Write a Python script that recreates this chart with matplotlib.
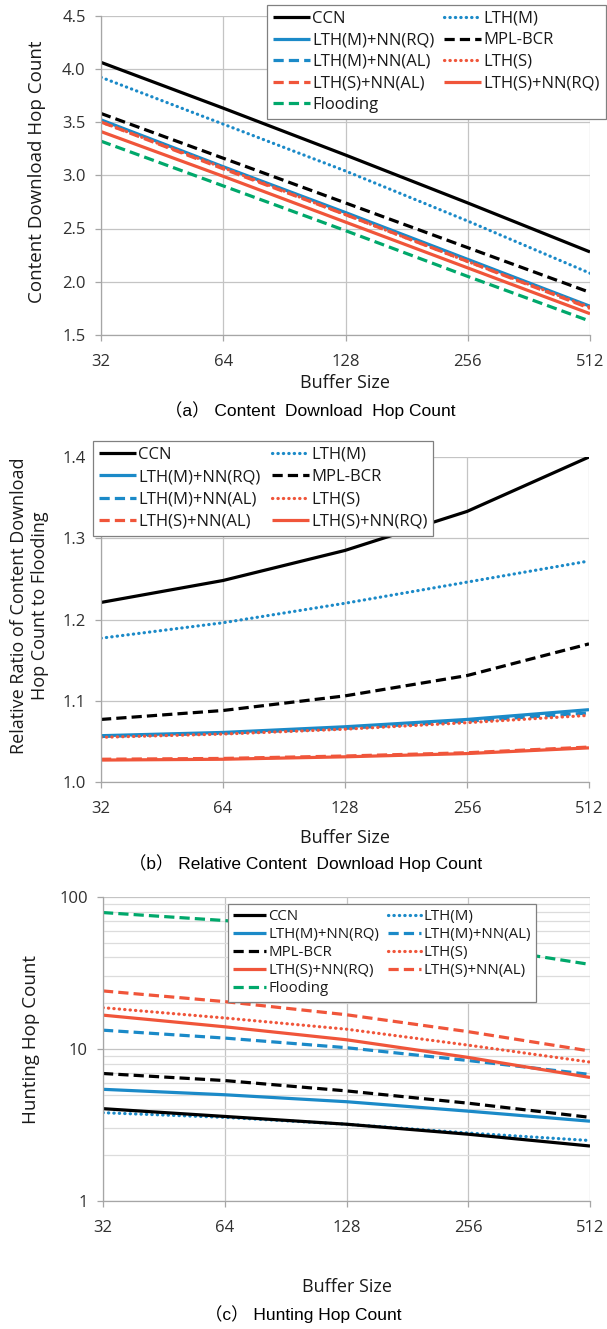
import numpy as np
import matplotlib
matplotlib.use('Agg')
import matplotlib.pyplot as plt
from matplotlib.ticker import FixedLocator, NullFormatter

plt.rcParams['font.family'] = ['Open Sans', 'DejaVu Sans']

buffer_sizes = [32, 64, 128, 256, 512]

# (a) content download hop count
a_ccn      = [4.06, 3.63, 3.19, 2.74, 2.28]
a_lthm     = [3.92, 3.48, 3.04, 2.57, 2.08]
a_mpl      = [3.58, 3.16, 2.74, 2.32, 1.90]
a_lthm_rq  = [3.52, 3.08, 2.65, 2.21, 1.77]
a_lthm_al  = [3.51, 3.07, 2.64, 2.20, 1.76]
a_lths     = [3.50, 3.07, 2.63, 2.19, 1.76]
a_lths_al  = [3.50, 3.06, 2.63, 2.19, 1.75]
a_lths_rq  = [3.41, 2.99, 2.56, 2.13, 1.70]
a_flood    = [3.32, 2.90, 2.48, 2.05, 1.63]

# (b) ratio to flooding
b_ccn      = [1.221, 1.248, 1.285, 1.333, 1.400]
b_lthm     = [1.177, 1.196, 1.220, 1.246, 1.272]
b_mpl      = [1.077, 1.088, 1.106, 1.131, 1.170]
b_lthm_rq  = [1.057, 1.061, 1.068, 1.077, 1.089]
b_lthm_al  = [1.056, 1.060, 1.066, 1.075, 1.085]
b_lths     = [1.055, 1.059, 1.065, 1.073, 1.082]
b_lths_al  = [1.028, 1.029, 1.032, 1.036, 1.043]
b_lths_rq  = [1.027, 1.028, 1.031, 1.035, 1.042]

# (c) hunting hop count
c_ccn      = [4.05, 3.60, 3.20, 2.75, 2.30]
c_lthm     = [3.81, 3.55, 3.20, 2.80, 2.50]
c_lthm_rq  = [5.43, 5.00, 4.50, 3.90, 3.35]
c_lthm_al  = [13.3, 11.8, 10.2, 8.4, 6.8]
c_mpl      = [6.90, 6.20, 5.30, 4.40, 3.55]
c_lths     = [18.7, 16.0, 13.5, 10.6, 8.2]
c_lths_rq  = [16.7, 14.0, 11.5, 8.8, 6.5]
c_lths_al  = [24.1, 20.5, 16.8, 13.0, 9.7]
c_flood    = [79.0, 70.0, 59.0, 48.0, 36.0]

BLACK = '#000000'
BLUE  = '#1B8AC8'
RED   = '#F0553A'
GREEN = '#00A86B'
GRID  = '#C4C4C4'
TXT   = '#1A1A1A'

SOLID  = '-'
DASH   = (0, (3.2, 1.6))
DOT    = (0, (0.1, 1.6))

styles = {
    'CCN':           (BLACK, SOLID),
    'LTH(M)':        (BLUE, DOT),
    'LTH(M)+NN(RQ)': (BLUE, SOLID),
    'MPL-BCR':       (BLACK, DASH),
    'LTH(M)+NN(AL)': (BLUE, DASH),
    'LTH(S)':        (RED, DOT),
    'LTH(S)+NN(AL)': (RED, DASH),
    'LTH(S)+NN(RQ)': (RED, SOLID),
    'Flooding':      (GREEN, DASH),
}

fig = plt.figure(figsize=(6.07, 13.29), dpi=100)
W, H = 607.0, 1329.0


def draw(ax, series):
    handles = {}
    for name, vals in series:
        col, ls = styles[name]
        capstyle = 'round' if ls == DOT else 'butt'
        h, = ax.plot(buffer_sizes, vals, color=col, lw=2.3, ls=ls,
                     dash_capstyle=capstyle, solid_capstyle='butt', label=name)
        handles[name] = h
    return handles


def style_axes(ax):
    ax.set_xscale('log', base=2)
    ax.set_xlim(32, 512)
    ax.xaxis.set_major_locator(FixedLocator(buffer_sizes))
    ax.xaxis.set_minor_locator(FixedLocator([]))
    ax.set_xticklabels([str(b) for b in buffer_sizes])
    ax.grid(True, which='major', color=GRID, lw=0.9)
    ax.set_axisbelow(True)
    for s in ['top', 'right']:
        ax.spines[s].set_visible(False)
    for s in ['left', 'bottom']:
        ax.spines[s].set_color('#A6A6A6')
        ax.spines[s].set_linewidth(0.9)
    ax.tick_params(axis='both', which='major', length=4, width=0.9,
                   color='#A6A6A6', labelsize=12, labelcolor='#303030',
                   direction='out')
    ax.tick_params(axis='x', pad=10)
    ax.tick_params(axis='y', pad=7)


def labels(ax, ylab, ylab_x, ylab_y, xlab_y, y0, y1, x0, yfs=13.5):
    # positions given in figure pixels, converted to axes fraction
    hpx = y1 - y0
    ax.set_ylabel(ylab, fontsize=yfs, color=TXT, linespacing=1.2)
    ax.yaxis.label.set_va('center')
    ax.yaxis.set_label_coords((ylab_x - x0) / (590 - x0), (y1 - ylab_y) / hpx)
    ax.set_xlabel("Buffer Size", fontsize=13, color=TXT)
    ax.xaxis.label.set_va('center')
    ax.xaxis.set_label_coords(0.5, (y1 - xlab_y) / hpx)


def legend(ax, handles, order, bbox, fs, rowsp, colsp):
    hs = [handles[n] for n in order]
    leg = ax.legend(hs, order, ncol=2, loc='upper left', bbox_to_anchor=bbox,
                    bbox_transform=fig.transFigure, fontsize=fs,
                    frameon=True, fancybox=False, edgecolor='#808080',
                    framealpha=1, borderpad=0.35, labelspacing=rowsp,
                    handlelength=2.2, handletextpad=0.15, columnspacing=colsp,
                    borderaxespad=0)
    leg.get_frame().set_linewidth(0.9)
    for t in leg.get_texts():
        t.set_color(TXT)
    return leg


def add_axes(x0, x1, y0, y1):
    return fig.add_axes([x0 / W, 1 - y1 / H, (x1 - x0) / W, (y1 - y0) / H])


cap_font = ['Liberation Sans', 'Noto Sans CJK JP', 'DejaVu Sans']

# ---------- (a)
ax1 = add_axes(101, 590, 15.5, 335)
h1 = draw(ax1, [('Flooding', a_flood), ('LTH(S)+NN(RQ)', a_lths_rq),
                ('LTH(M)+NN(RQ)', a_lthm_rq), ('LTH(M)+NN(AL)', a_lthm_al),
                ('LTH(S)+NN(AL)', a_lths_al), ('LTH(S)', a_lths),
                ('MPL-BCR', a_mpl), ('LTH(M)', a_lthm), ('CCN', a_ccn)])
style_axes(ax1)
ax1.set_ylim(1.5, 4.5)
ax1.set_yticks(np.arange(1.5, 4.51, 0.5))
ax1.set_yticklabels([f"{v:.1f}" for v in np.arange(1.5, 4.51, 0.5)])
labels(ax1, "Content Download Hop Count", 37, 172, 383, 15.5, 335, 101)
legend(ax1, h1, ['CCN', 'LTH(M)+NN(RQ)', 'LTH(M)+NN(AL)', 'LTH(S)+NN(AL)',
                 'Flooding', 'LTH(M)', 'MPL-BCR', 'LTH(S)', 'LTH(S)+NN(RQ)'],
       (267 / W, 1 - 5 / H), 12, 0.33, 0.6)
fig.text(165 / W, 1 - 410 / H, "（a） Content  Download  Hop Count",
         ha='left', va='center', fontsize=12.5, family=cap_font)

# ---------- (b)
ax2 = add_axes(101, 589, 457, 782)
h2 = draw(ax2, [('LTH(S)+NN(RQ)', b_lths_rq), ('LTH(S)+NN(AL)', b_lths_al),
                ('LTH(M)+NN(RQ)', b_lthm_rq), ('LTH(M)+NN(AL)', b_lthm_al),
                ('LTH(S)', b_lths), ('MPL-BCR', b_mpl), ('LTH(M)', b_lthm),
                ('CCN', b_ccn)])
style_axes(ax2)
ax2.set_ylim(1.0, 1.4)
ax2.set_yticks(np.arange(1.0, 1.41, 0.1))
ax2.set_yticklabels([f"{v:.1f}" for v in np.arange(1.0, 1.41, 0.1)])
labels(ax2, "Relative Ratio of Content Download\nHop Count to Flooding",
       29, 606, 838, 457, 782, 101, yfs=13)
legend(ax2, h2, ['CCN', 'LTH(M)+NN(RQ)', 'LTH(M)+NN(AL)', 'LTH(S)+NN(AL)',
                 'LTH(M)', 'MPL-BCR', 'LTH(S)', 'LTH(S)+NN(RQ)'],
       (93 / W, 1 - 441 / H), 12, 0.38, 0.7)
fig.text(129 / W, 1 - 863 / H,
         "（b） Relative Content  Download Hop Count",
         ha='left', va='center', fontsize=12.5, family=cap_font)

# ---------- (c)
ax3 = add_axes(103, 590, 897, 1201)
h3 = draw(ax3, [('Flooding', c_flood), ('LTH(M)', c_lthm), ('CCN', c_ccn),
                ('LTH(M)+NN(RQ)', c_lthm_rq), ('MPL-BCR', c_mpl),
                ('LTH(M)+NN(AL)', c_lthm_al), ('LTH(S)+NN(RQ)', c_lths_rq),
                ('LTH(S)', c_lths), ('LTH(S)+NN(AL)', c_lths_al)])
style_axes(ax3)
ax3.set_yscale('log')
ax3.set_ylim(1, 100)
ax3.set_yticks([1, 10, 100])
ax3.set_yticklabels(['1', '10', '100'])
minors = [m * d for d in (1, 10) for m in range(2, 10)]
ax3.yaxis.set_minor_locator(FixedLocator(minors))
ax3.yaxis.set_minor_formatter(NullFormatter())
ax3.grid(True, which='minor', axis='y', color='#DCDCDC', lw=0.9)
ax3.tick_params(axis='y', which='minor', length=0)
labels(ax3, "Hunting Hop Count", 31, 1040, 1287, 897, 1201, 103)
legend(ax3, h3, ['CCN', 'LTH(M)+NN(RQ)', 'MPL-BCR', 'LTH(S)+NN(RQ)',
                 'Flooding', 'LTH(M)', 'LTH(M)+NN(AL)', 'LTH(S)',
                 'LTH(S)+NN(AL)'],
       (228 / W, 1 - 904 / H), 10.8, 0.2, 0.6)
fig.text(205 / W, 1 - 1314 / H, "（c） Hunting Hop Count",
         ha='left', va='center', fontsize=12.5, family=cap_font)

fig.savefig("out.png", dpi=100)
